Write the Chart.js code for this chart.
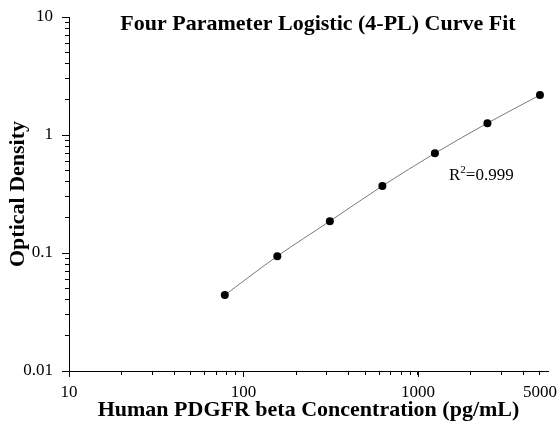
<!DOCTYPE html>
<html>
<head>
<meta charset="utf-8">
<script src="https://cdn.jsdelivr.net/npm/chart.js@4/dist/chart.umd.min.js"></script>
<style>
  html, body { margin: 0; padding: 0; background: #fff; }
  #wrap { width: 560px; height: 432px; }
</style>
</head>
<body>
<div id="wrap"><canvas id="curve"></canvas></div>
<script>
// standard curve
const concentrations = [78.125, 156.25, 312.5, 625, 1250, 2500, 5000];
const opticalDensity = [0.044, 0.094, 0.186, 0.37, 0.70, 1.26, 2.18];

const xLabelled = [10, 100, 1000, 5000];
const yLabelled = [0.01, 0.1, 1, 10];
const xMajor = [10, 100, 1000];
const yMajor = [0.01, 0.1, 1, 10];

const titleText = 'Four Parameter Logistic (4-PL) Curve Fit';
const rSquared = '0.999';

const serif = '"Liberation Serif", "Times New Roman", serif';

function logTicks(lo, hi) {
  let out = [];
  for (let d = lo; d < hi * 1.0001; d *= 10) {
    for (let m = 1; m <= 9; m++) {
      let v = +(d * m).toPrecision(6);
      if (v <= hi * 1.0001) out.push({ value: v });
    }
  }
  return out;
}

function isIn(list, v) {
  return list.some(t => Math.abs(t - v) / t < 1e-6);
}

// longer major ticks + text drawn on top
const extras = {
  id: 'extras',
  afterDraw(chart) {
    const ctx = chart.ctx;
    const xs = chart.scales.x, ys = chart.scales.y;
    ctx.save();
    ctx.strokeStyle = '#000';
    ctx.lineWidth = 1;
    xMajor.forEach(v => {
      let px = Math.round(xs.getPixelForValue(v)) + 0.5;
      ctx.beginPath();
      ctx.moveTo(px, xs.top);
      ctx.lineTo(px, xs.top + 6);
      ctx.stroke();
    });
    yMajor.forEach(v => {
      let py = Math.round(ys.getPixelForValue(v)) + 0.5;
      ctx.beginPath();
      ctx.moveTo(ys.right, py);
      ctx.lineTo(ys.right - 7, py);
      ctx.stroke();
    });

    ctx.fillStyle = '#000';
    ctx.textAlign = 'center';
    ctx.textBaseline = 'middle';
    ctx.font = 'bold 22px ' + serif;
    ctx.fillText(titleText, 318, 24);

    // R^2 annotation
    ctx.textAlign = 'left';
    ctx.textBaseline = 'alphabetic';
    let x = 449, base = 180;
    ctx.font = '17px ' + serif;
    ctx.fillText('R', x, base);
    x += ctx.measureText('R').width;
    ctx.font = '11px ' + serif;
    ctx.fillText('2', x, base - 7);
    x += ctx.measureText('2').width;
    ctx.font = '17px ' + serif;
    ctx.fillText('=' + rSquared, x, base);
    ctx.restore();
  }
};

new Chart(document.getElementById('curve'), {
  type: 'line',
  data: {
    datasets: [{
      label: 'OD',
      data: concentrations.map((c, i) => ({ x: c, y: opticalDensity[i] })),
      borderColor: '#7a7a7a',
      borderWidth: 1,
      cubicInterpolationMode: 'monotone',
      pointRadius: 4,
      pointBackgroundColor: '#000',
      pointBorderColor: '#000',
      pointBorderWidth: 0,
      clip: false
    }]
  },
  options: {
    responsive: true,
    maintainAspectRatio: false,
    animation: false,
    layout: { padding: { left: 0, right: 12, top: 17, bottom: 0 } },
    plugins: {
      legend: { display: false },
      tooltip: { enabled: false }
    },
    scales: {
      x: {
        type: 'logarithmic',
        min: 10,
        max: 5560,
        afterBuildTicks: s => { s.ticks = logTicks(10, 5000); },
        afterFit: s => { s.height = 61; s.paddingLeft = 0; s.paddingRight = 0; },
        border: { color: '#000', width: 1 },
        grid: { drawOnChartArea: false, tickLength: 4, tickColor: '#000' },
        ticks: {
          autoSkip: false,
          maxRotation: 0,
          padding: 7,
          color: '#000',
          font: { family: serif, size: 17 },
          callback: v => isIn(xLabelled, v) ? String(v) : ''
        },
        title: {
          display: true,
          text: 'Human PDGFR beta Concentration (pg/mL)',
          color: '#000',
          font: { family: serif, size: 22, weight: 'bold' },
          padding: { top: 0, bottom: 8 }
        }
      },
      y: {
        type: 'logarithmic',
        min: 0.01,
        max: 10,
        afterBuildTicks: s => { s.ticks = logTicks(0.01, 10); },
        afterFit: s => { s.width = 69; s.paddingTop = 0; s.paddingBottom = 0; },
        border: { color: '#000', width: 1 },
        grid: { drawOnChartArea: false, tickLength: 4, tickColor: '#000' },
        ticks: {
          autoSkip: false,
          padding: 12,
          color: '#000',
          font: { family: serif, size: 17 },
          callback: v => isIn(yLabelled, v) ? String(v) : ''
        },
        title: {
          display: true,
          text: 'Optical Density',
          color: '#000',
          font: { family: serif, size: 22, weight: 'bold' },
          padding: { top: 5, bottom: 0 }
        }
      }
    }
  },
  plugins: [extras]
});
</script>
</body>
</html>
